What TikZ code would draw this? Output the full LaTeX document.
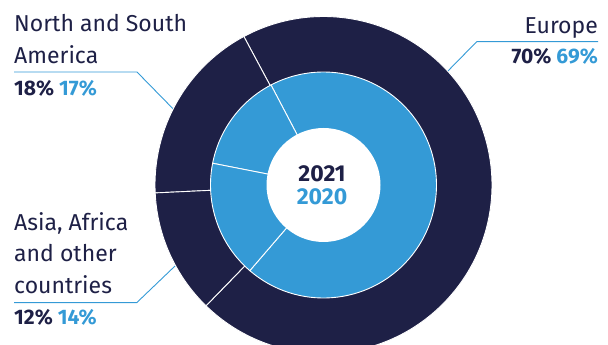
\documentclass[tikz,border=0pt]{standalone}
\usepackage{fontspec}
\setmainfont{Fira Sans}
\usetikzlibrary{positioning,calc}
\definecolor{navy}{RGB}{30,32,70}
\definecolor{sky}{RGB}{52,154,214}
\tikzset{region/.style={anchor=base west,inner sep=0pt,align=left,text=navy,
                font=\fontsize{23}{31.6}\selectfont},
         share/.style={anchor=base west,inner sep=0pt,text=navy,
                font=\fontsize{21}{24}\selectfont\bfseries},
         year/.style={anchor=base,inner sep=0pt,
                font=\fontsize{23}{26}\selectfont\bfseries},
         pointer/.style={draw=sky,line width=0.9pt},
         slice/.style={draw=white,line width=0.9pt}}

\begin{document}
\begin{tikzpicture}[x=1pt,y=1pt]
\useasboundingbox (0,0) rectangle (608,345);

\coordinate (c) at (323.5,160);

% outer ring, 2021
\fill[navy,slice] (c) -- ++(-134.2:168.5) arc[start angle=-134.2,end angle=118.2,radius=168.5] -- cycle;
\fill[navy,slice] (c) -- ++(118.2:168.5) arc[start angle=118.2,end angle=182.7,radius=168.5] -- cycle;
\fill[navy,slice] (c) -- ++(182.7:168.5) arc[start angle=182.7,end angle=225.8,radius=168.5] -- cycle;

% inner ring, 2020
\fill[sky,slice] (c) -- ++(-130.7:113) arc[start angle=-130.7,end angle=117.7,radius=113] -- cycle;
\fill[sky,slice] (c) -- ++(117.7:113) arc[start angle=117.7,end angle=168.9,radius=113] -- cycle;
\fill[sky,slice] (c) -- ++(168.9:113) arc[start angle=168.9,end angle=229.3,radius=113] -- cycle;

% centre
\fill[white] (c) circle[radius=57];
\node[year,text=navy] (y21) at (322,163.3) {2021};
\node[year,text=sky] (y20) at (322,140) {2020};

% labels
\node[region] (nsa) at (14,281.7) {North and South\\America};
\node[share] (nsap) at (14,249) {18\% \textcolor{sky}{17\%}};
\node[region] (asia) at (14,51.7) {Asia, Africa\\and other\\countries};
\node[share] (asiap) at (14,20) {12\% \textcolor{sky}{14\%}};
\node[region,anchor=base east] (eur) at (598,311.7) {Europe};
\node[share,anchor=base east] (eurp) at (598,281) {70\% \textcolor{sky}{69\%}};

% pointers
\coordinate (nsa-a) at (14,273);
\coordinate (nsa-b) at (137,273);
\coordinate (nsa-c) at ($(c)+(153.1:169)$);
\coordinate (asia-a) at (14,42.3);
\coordinate (asia-b) at (136.7,42.3);
\coordinate (asia-c) at ($(c)+(208.6:169)$);
\coordinate (eur-a) at (598,303.3);
\coordinate (eur-b) at (476.7,303.3);
\coordinate (eur-c) at ($(c)+(42.5:169)$);
\draw[pointer] (nsa-a) -- (nsa-b) -- (nsa-c);
\draw[pointer] (asia-a) -- (asia-b) -- (asia-c);
\draw[pointer] (eur-a) -- (eur-b) -- (eur-c);

\end{tikzpicture}
\end{document}
